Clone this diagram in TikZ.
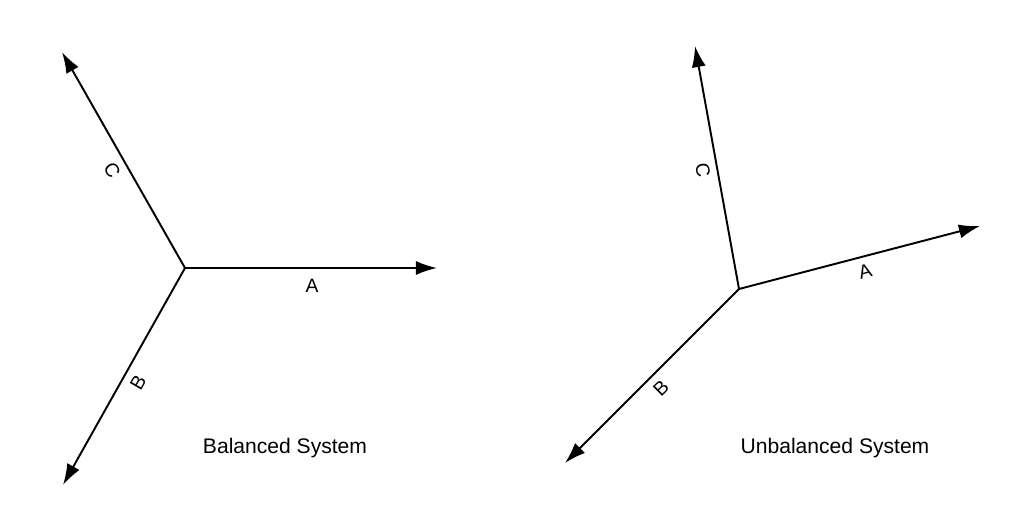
\documentclass[tikz,border=0pt]{standalone}
\usepackage{fontspec}
\setmainfont{Liberation Sans}
\usetikzlibrary{arrows.meta}
\begin{document}
\begin{tikzpicture}[x=0.02cm,y=-0.02cm,
  vec/.style={line width=1.1pt,-{Latex[length=12pt,width=8pt]}},
  lbl/.style={font=\fontsize{11}{13}\selectfont,inner sep=1pt},
  ttl/.style={font=\fontsize{12}{14}\selectfont}]
\useasboundingbox (0,0) rectangle (1024,527);
% Balanced
\coordinate (O1) at (185,268);
\coordinate (A1) at (437,268);
\coordinate (B1) at (63,485);
\coordinate (C1) at (62,52);
\draw[vec] (O1) -- (A1);
\draw[vec] (O1) -- (B1);
\draw[vec] (O1) -- (C1);
\node[lbl] (la1) at (312,286) {A};
\node[lbl,rotate=60] (lb1) at (138,383) {B};
\node[lbl,rotate=-60] (lc1) at (112,170) {C};
\node[ttl] (t1) at (285,448) {Balanced System};
% Unbalanced
\coordinate (O2) at (739,289);
\coordinate (A2) at (980,226);
\coordinate (B2) at (565,463);
\coordinate (C2) at (695,46);
\draw[vec] (O2) -- (A2);
\draw[vec] (O2) -- (B2);
\draw[vec] (O2) -- (C2);
\node[lbl,rotate=15] (la2) at (865,271) {A};
\node[lbl,rotate=45] (lb2) at (661,388) {B};
\node[lbl,rotate=-80] (lc2) at (703,170) {C};
\node[ttl] (t2) at (835,448) {Unbalanced System};
\end{tikzpicture}
\end{document}
